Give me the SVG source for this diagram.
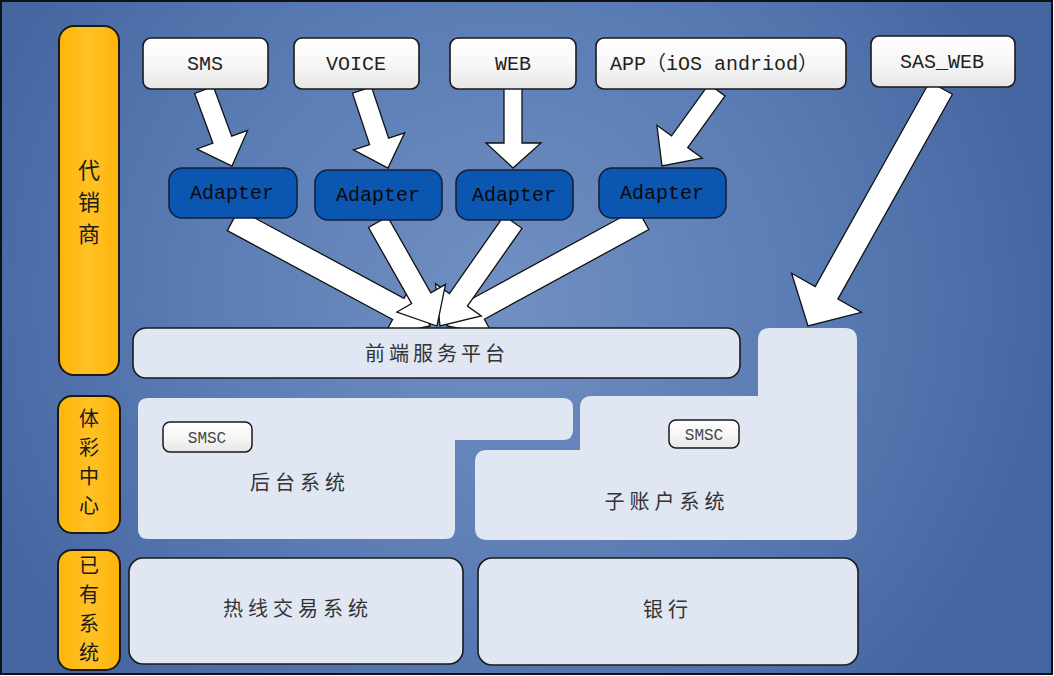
<svg xmlns="http://www.w3.org/2000/svg" width="1054" height="676" viewBox="0 0 1054 676">
<defs>
<radialGradient id="bg" cx="500" cy="300" r="560" gradientUnits="userSpaceOnUse">
<stop offset="0" stop-color="#7190c2"/>
<stop offset="0.55" stop-color="#5a7cb4"/>
<stop offset="1" stop-color="#4565a0"/>
</radialGradient>
<linearGradient id="org" x1="0" y1="0" x2="1" y2="0">
<stop offset="0" stop-color="#ffb60a"/>
<stop offset="0.5" stop-color="#ffc124"/>
<stop offset="1" stop-color="#ffb40a"/>
</linearGradient>
<linearGradient id="wht" x1="0" y1="0" x2="0" y2="1">
<stop offset="0" stop-color="#ffffff"/>
<stop offset="0.5" stop-color="#f7f7f7"/>
<stop offset="1" stop-color="#e6e6e6"/>
</linearGradient>
<style>
.lab{fill:url(#org);stroke:#1a1a1a;stroke-width:2}
.labt{font-family:"Noto Sans CJK SC",sans-serif;font-size:22px;fill:#1a1a1a;text-anchor:middle}
.labs{font-size:20px}
.src{fill:url(#wht);stroke:#1a1a1a;stroke-width:1.6}
.srct{font-family:"Liberation Mono","Noto Sans CJK SC",monospace;font-size:20px;fill:#222;text-anchor:middle}
.ad{fill:#0b56b1;stroke:#14203a;stroke-width:1.6}
.adt{font-family:"Liberation Mono",monospace;font-size:20px;fill:#0a0a0a;text-anchor:middle}
.sys{fill:#e0e7f3;stroke:#1a1a1a;stroke-width:1.6}
.zone{fill:#e0e7f3}
.syst{font-family:"Noto Sans CJK SC",sans-serif;font-size:20px;fill:#333;text-anchor:middle;letter-spacing:5px}
.smsc{fill:url(#wht);stroke:#1a1a1a;stroke-width:1.5}
.smsct{font-family:"Liberation Mono",monospace;font-size:16px;fill:#444;text-anchor:middle}
.arr{fill:#ffffff;stroke:#111;stroke-width:1.3;stroke-linejoin:miter}
</style>
</defs>
<rect x="1" y="1" width="1051" height="673" fill="url(#bg)" stroke="#111" stroke-width="2"/>

<g id="label-daixiaoshang"><rect class="lab" x="59" y="26" width="60" height="349" rx="15"/>
<text class="labt"><tspan x="89" y="178">代</tspan><tspan x="89" y="210">销</tspan><tspan x="89" y="242">商</tspan></text></g>
<g id="label-ticaizhongxin"><rect class="lab" x="58" y="396" width="62" height="137" rx="14"/>
<text class="labt labs"><tspan x="89" y="426">体</tspan><tspan x="89" y="455">彩</tspan><tspan x="89" y="484">中</tspan><tspan x="89" y="513">心</tspan></text></g>
<g id="label-yiyouxitong"><rect class="lab" x="58" y="550" width="62" height="120" rx="14"/>
<text class="labt labs"><tspan x="89" y="573">已</tspan><tspan x="89" y="602">有</tspan><tspan x="89" y="631">系</tspan><tspan x="89" y="660">统</tspan></text></g>

<g id="zone-houtai"><path class="zone" d="M148,398 H563 Q573,398 573,408 V430 Q573,440 563,440 H455 V529 Q455,539 445,539 H148 Q138,539 138,529 V408 Q138,398 148,398 Z"/>
<g id="smsc-1"><rect class="smsc" x="163" y="422" width="89" height="30" rx="7"/><text class="smsct" x="207" y="443">SMSC</text></g>
<text class="syst" x="300" y="490">后台系统</text></g>

<g id="zone-zizhanghu"><path class="zone" d="M770,328 H845 Q857,328 857,340 V528 Q857,540 845,540 H487 Q475,540 475,528 V462 Q475,450 487,450 H580 V408 Q580,396 592,396 H758 V340 Q758,328 770,328 Z"/>
<g id="smsc-2"><rect class="smsc" x="669" y="420" width="70" height="28" rx="7"/><text class="smsct" x="704" y="440">SMSC</text></g>
<text class="syst" x="667" y="509">子账户系统</text></g>

<g id="connectors">
<polygon class="arr" points="194.6,93.5 212.9,143.2 197,149 232,166 247.6,130.4 231.7,136.2 213.4,86.5"/>
<polygon class="arr" points="352.5,93.2 369.6,144.6 353.5,149.9 388,168 404.7,132.9 388.6,138.2 371.5,86.8"/>
<polygon class="arr" points="504,88 504,143 486,143 513,168 541,143 522,143 522,88"/>
<polygon class="arr" points="708.9,84.1 671.5,135.8 656.9,125.3 662,166 702.3,158.1 687.7,147.6 725.1,95.9"/>
<polygon class="arr" points="929.6,81.7 815.2,286.5 791.6,273.3 808,326 861.4,312.3 837.9,299.1 952.4,94.3"/>
<polygon class="arr" points="227.3,230.6 392.6,319.5 384.1,335.3 430,326 412.5,282.5 404,298.3 238.7,209.4"/>
<polygon class="arr" points="637.2,208.5 472.9,298.2 464.2,282.4 447,326 493,335 484.4,319.2 648.8,229.5"/>
<polygon class="arr" points="504,215.7 449.4,293.5 435.5,283.7 440,326 481.3,315.9 467.4,306.1 522,228.3"/>
<polygon class="arr" points="368.4,227.4 411.6,303.6 396.9,312 437,326 445.5,284.4 430.8,292.8 387.6,216.6"/>
</g>

<g id="src-sms"><rect class="src" x="143" y="38" width="125" height="51" rx="8"/><text class="srct" x="205" y="70">SMS</text></g>
<g id="src-voice"><rect class="src" x="294" y="38" width="125" height="51" rx="8"/><text class="srct" x="356" y="70">VOICE</text></g>
<g id="src-web"><rect class="src" x="450" y="38" width="126" height="51" rx="8"/><text class="srct" x="513" y="70">WEB</text></g>
<g id="src-app"><rect class="src" x="596" y="38" width="250" height="51" rx="8"/><text class="srct" x="714" y="70">APP（iOS andriod）</text></g>
<g id="src-sasweb"><rect class="src" x="871" y="36" width="144" height="51" rx="8"/><text class="srct" x="942" y="68">SAS_WEB</text></g>

<g id="adapter-1"><rect class="ad" x="169" y="168" width="128" height="50" rx="13"/><text class="adt" x="232" y="199">Adapter</text></g>
<g id="adapter-2"><rect class="ad" x="315" y="170" width="127" height="50" rx="13"/><text class="adt" x="378" y="201">Adapter</text></g>
<g id="adapter-3"><rect class="ad" x="456" y="170" width="117" height="50" rx="13"/><text class="adt" x="514" y="201">Adapter</text></g>
<g id="adapter-4"><rect class="ad" x="599" y="168" width="127" height="50" rx="13"/><text class="adt" x="662" y="199">Adapter</text></g>

<g id="platform"><rect class="sys" x="133" y="328" width="607" height="50" rx="13"/><text class="syst" x="437" y="361" style="letter-spacing:4px">前端服务平台</text></g>

<g id="sys-rexian"><rect class="sys" x="129" y="558" width="334" height="106" rx="14"/><text class="syst" x="298" y="616">热线交易系统</text></g>
<g id="sys-yinhang"><rect class="sys" x="478" y="558" width="380" height="107" rx="14"/><text class="syst" x="668" y="617">银行</text></g>
</svg>
